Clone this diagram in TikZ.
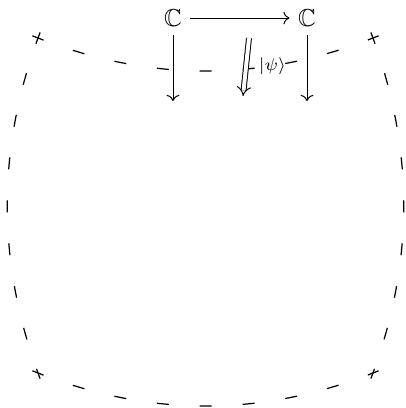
\documentclass[tikz,border=0pt]{standalone}
\usepackage{amssymb}
\usetikzlibrary{arrows.meta,calc}
\begin{document}
\begin{tikzpicture}[x=0.4084pt,y=-0.4084pt,
  bnd/.style={line width=0.5pt,dash pattern=on 4.9pt off 12.66pt},
  arr/.style={->,line width=0.4pt},
  dbl/.style={double,double distance=1.6pt,line width=0.4pt,-{Implies}},
  lbl/.style={font=\scriptsize,inner sep=1pt}]
\useasboundingbox (0,0) rectangle (406,408);
% corners
\coordinate (tl) at (38,38);
\coordinate (tr) at (373,38);
\coordinate (bl) at (38,373);
\coordinate (br) at (373,373);
% dashed boundary curves (each starts half a dash before its corner)
\draw[bnd] ($(tl)+(-5.6,-2.2)$) -- (tl) .. controls (150,82) and (261,82) .. (tr) -- ($(tr)+(5.6,-2.2)$);
\draw[bnd] ($(bl)+(-5.6,-2.2)$) -- (bl) .. controls (150,417) and (261,417) .. (br) -- ($(br)+(5.6,-2.2)$);
\draw[bnd] ($(tl)+(2.1,-5.6)$) -- (tl) .. controls (-3,150) and (-3,261) .. (bl) -- ($(bl)+(2.1,5.6)$);
\draw[bnd] ($(tr)+(-2.1,-5.6)$) -- (tr) .. controls (414,150) and (414,261) .. (br) -- ($(br)+(-2.1,5.6)$);
% diagram
\node (A) at (173,18) {$\mathbb{C}$};
\node (B) at (307,18) {$\mathbb{C}$};
\coordinate (A2) at (173,101);
\coordinate (B2) at (307,101);
\coordinate (D1) at (249,38);
\coordinate (D2) at (243,96);
\draw[arr] (A) -- (B);
\draw[arr] (A) -- (A2);
\draw[arr] (B) -- (B2);
\draw[dbl] (D1) -- node[lbl,pos=0.48,right=4pt] (L) {$|\psi\rangle$} (D2);
\end{tikzpicture}
\end{document}
